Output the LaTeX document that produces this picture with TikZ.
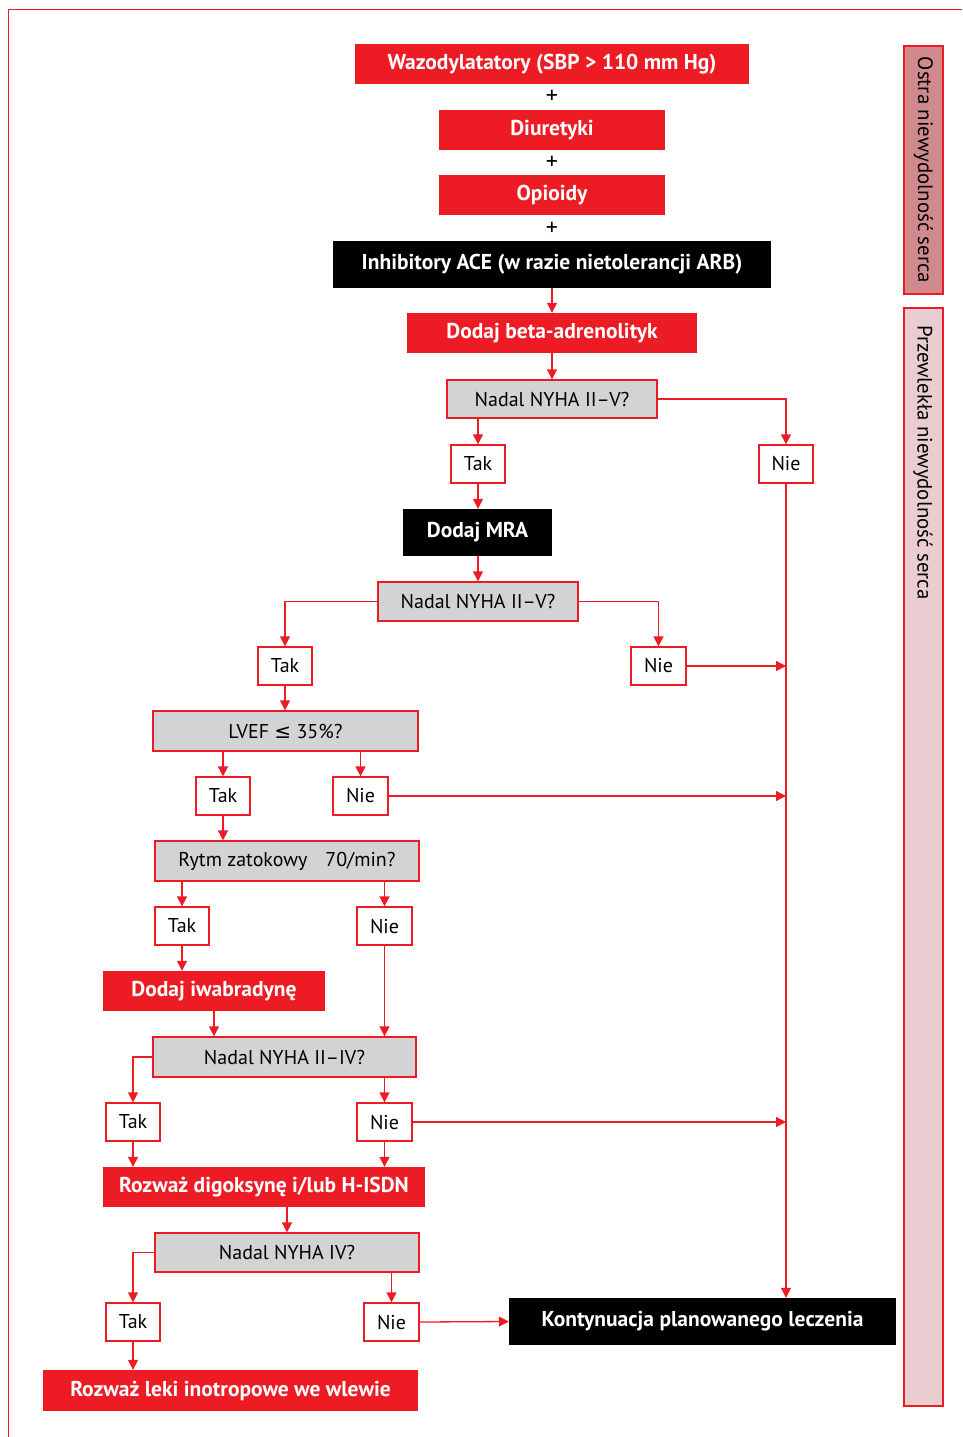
\documentclass[tikz,border=0pt]{standalone}
\usepackage{fontspec}
\setmainfont{PT Sans}
\newfontfamily\symf{DejaVu Sans}
\usetikzlibrary{arrows.meta}
\definecolor{cred}{HTML}{ED1C24}
\definecolor{cgray}{HTML}{D1D3D4}
\definecolor{barA}{HTML}{D08A8E}
\definecolor{barB}{HTML}{E9CDD0}
\newcommand\mybox[7]{\node[#1,minimum width={#5-#3},minimum height={#6-#4}] (#2) at ({(#3+#5)/2},{(#4+#6)/2}) {#7};}
\begin{document}
\begin{tikzpicture}[x=1pt,y=-1pt,
  redbox/.style={fill=cred,text=white,font=\fontsize{21.5}{24}\selectfont\bfseries,inner sep=0pt},
  blackbox/.style={fill=black,text=white,font=\fontsize{21.5}{24}\selectfont\bfseries,inner sep=0pt},
  graybox/.style={fill=cgray,draw=cred,line width=1.3pt,font=\fontsize{20}{22}\selectfont,inner sep=0pt},
  ansbox/.style={fill=white,draw=cred,line width=1.3pt,font=\fontsize{20}{22}\selectfont,inner sep=0pt},
  sidebar/.style={draw=cred,line width=1.3pt,inner sep=0pt},
  sidetext/.style={rotate=-90,font=\fontsize{20.8}{23}\selectfont,inner sep=0pt},
  plus/.style={font=\fontsize{24}{26}\selectfont,inner sep=0pt},
  arr/.style={draw=cred,line width=1.3pt,-{Triangle[width=10pt,length=10pt]}},
  frame/.style={draw=cred,line width=1pt}]
\useasboundingbox (0,0) rectangle (962,1437);
\draw[frame] (8,1437) -- (8,10) -- (962,10);
% side bars
\mybox{sidebar,fill=barA}{sbA}{904}{46}{943}{294}{}
\node[sidetext] (sbAt) at (sbA.center) {Ostra niewydolność serca};
\mybox{sidebar,fill=barB}{sbB}{904}{308}{943}{1406}{}
\node[sidetext,anchor=west] (sbBt) at (923,325) {Przewlekła niewydolność serca};
% acute block
\mybox{redbox}{vaso}{355}{44}{749}{84}{Wazodylatatory (SBP > 110 mm Hg)}
\node[plus] (p1) at (552,97) {+};
\mybox{redbox}{diur}{439}{110}{665}{150}{Diuretyki}
\node[plus] (p2) at (552,163) {+};
\mybox{redbox}{opio}{439}{175}{665}{215}{Opioidy}
\node[plus] (p3) at (552,229) {+};
\mybox{blackbox}{ace}{333}{241}{771}{288}{Inhibitory ACE (w razie nietolerancji ARB)}
\mybox{redbox}{beta}{407}{313}{697}{353}{Dodaj beta-adrenolityk}
\mybox{graybox}{q1}{447}{380}{657}{418}{Nadal NYHA II--V?}
\mybox{ansbox}{t1}{451}{445}{505}{483}{Tak}
\mybox{ansbox}{n1}{759}{445}{813}{483}{Nie}
\mybox{blackbox}{mra}{403}{509}{552}{556}{Dodaj MRA}
\mybox{graybox}{q2}{378}{582}{578}{621}{Nadal NYHA II--V?}
\mybox{ansbox}{t2}{258}{647}{312}{685}{Tak}
\mybox{ansbox}{n2}{631}{647}{686}{685}{Nie}
\mybox{graybox}{q3}{153}{711}{418}{751}{LVEF {\symf ≤} 35\%?}
\mybox{ansbox}{t3}{196}{777}{250}{815}{Tak}
\mybox{ansbox}{n3}{333}{777}{388}{815}{Nie}
\mybox{graybox}{q4}{155}{841}{419}{881}{Rytm zatokowy\hspace{0.9em}70/min?}
\mybox{ansbox}{t4}{155}{907}{209}{945}{Tak}
\mybox{ansbox}{n4}{357}{907}{412}{945}{Nie}
\mybox{redbox}{iwab}{103}{971}{325}{1011}{Dodaj iwabradynę}
\mybox{graybox}{q5}{153}{1037}{416}{1077}{Nadal NYHA II--IV?}
\mybox{ansbox}{t5}{106}{1103}{160}{1141}{Tak}
\mybox{ansbox}{n5}{357}{1103}{412}{1141}{Nie}
\mybox{redbox}{digo}{103}{1167}{425}{1207}{Rozważ digoksynę i/lub H-ISDN}
\mybox{graybox}{q6}{155}{1233}{419}{1272}{Nadal NYHA IV?}
\mybox{ansbox}{t6}{106}{1303}{160}{1341}{Tak}
\mybox{ansbox}{n6}{364}{1303}{419}{1341}{Nie}
\mybox{blackbox}{kont}{509}{1298}{896}{1345}{Kontynuacja planowanego leczenia}
\mybox{redbox}{ino}{43}{1370}{418}{1411}{Rozważ leki inotropowe we wlewie}
% connectors
\draw[arr] (ace.south) -- (beta.north);
\draw[arr] (beta.south) -- (q1.north);
\draw[arr] (t1.north |- q1.south) -- (t1.north);
\draw[arr] (q1.east) -| (n1.north);
\draw[arr] (t1.south) -- (t1.south |- mra.north);
\draw[arr] (mra.south) -- (mra.south -| q2.north) -- (q2.north);
\draw[arr] (q2.west) -| (t2.north);
\draw[arr] (q2.east) -| (n2.north);
\draw[arr] (n1.south) -- (n1.south |- kont.north);
\draw[arr] (n2.east) -- (n2.east -| n1.south);
\draw[arr] (t2.south) -- (t2.south |- q3.north);
\draw[arr] (t3.north |- q3.south) -- (t3.north);
\draw[arr] (n3.north |- q3.south) -- (n3.north);
\draw[arr] (n3.east) -- (n3.east -| n1.south);
\draw[arr] (t3.south) -- (t3.south |- q4.north);
\draw[arr] (t4.north |- q4.south) -- (t4.north);
\draw[arr] (n4.north |- q4.south) -- (n4.north);
\draw[arr] (t4.south) -- (t4.south |- iwab.north);
\draw[arr] (n4.south) -- (n4.south |- q5.north);
\draw[arr] (iwab.south) -- (iwab.south |- q5.north);
\draw[arr] (q5.west) -| (t5.north);
\draw[arr] (n5.north |- q5.south) -- (n5.north);
\draw[arr] (n5.east) -- (n5.east -| n1.south);
\draw[arr] (t5.south) -- (t5.south |- digo.north);
\draw[arr] (n5.south) -- (n5.south |- digo.north);
\draw[arr] (q6.north |- digo.south) -- (q6.north);
\draw[arr] (q6.west) -| (t6.north);
\draw[arr] (n6.north |- q6.south) -- (n6.north);
\draw[arr] (n6.east) -- (kont.west);
\draw[arr] (t6.south) -- (t6.south |- ino.north);
\end{tikzpicture}
\end{document}
